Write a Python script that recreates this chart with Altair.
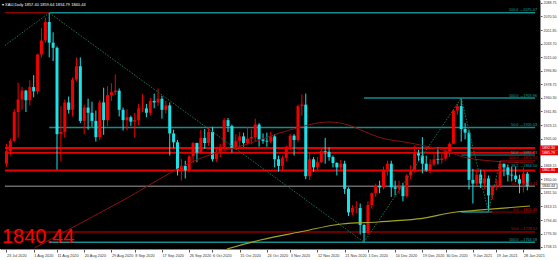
import altair as alt
import pandas as pd

# ---------------- data ----------------
opens = [1871, 1888, 1902, 1941, 1958, 1970, 1957, 1975, 1969, 2019, 2038, 2063, 2035, 2028, 1911, 1914, 1954, 1944, 1985, 2003,
         1929, 1947, 1940, 1929, 1907, 1954, 1930, 1964, 1968, 1970, 1944, 1930, 1934, 1928, 1930, 1946, 1946, 1940, 1956, 1954,
         1959, 1944, 1950, 1912, 1900, 1863, 1868, 1862, 1881, 1899, 1886, 1906, 1899, 1914, 1877, 1887, 1894, 1930, 1922, 1892,
         1902, 1908, 1899, 1905, 1907, 1924, 1904, 1902, 1901, 1908, 1877, 1868, 1879, 1894, 1909, 1903, 1949, 1951, 1854, 1877,
         1866, 1873, 1888, 1887, 1880, 1872, 1866, 1871, 1837, 1805, 1811, 1811, 1788, 1777, 1815, 1831, 1841, 1839, 1863, 1871,
         1839, 1837, 1840, 1827, 1855, 1862, 1885, 1882, 1871, 1862, 1870, 1877, 1876, 1878, 1888, 1898, 1943, 1949, 1918, 1913,
         1849, 1844, 1856, 1844, 1851, 1828, 1840, 1840, 1871, 1866, 1856, 1855, 1850, 1844, 1857.40]
highs = [1898, 1905, 1945, 1981, 1975, 1971, 1984, 1991, 2020, 2055, 2069, 2075.47, 2049, 2030, 1949, 1958, 1962, 1988, 2015, 2015,
         1951, 1959, 1955, 1943, 1957, 1974, 1976, 1980, 1992, 1973, 1947, 1945, 1936, 1940, 1952, 1965, 1952, 1960, 1966, 1973,
         1963, 1956, 1954, 1917, 1903, 1877, 1875, 1883, 1900, 1899.5, 1917, 1918, 1920, 1921, 1894, 1898, 1933, 1933, 1924, 1911,
         1914, 1913, 1920, 1918, 1932, 1926, 1912, 1913, 1914, 1911, 1882, 1882, 1895, 1911, 1911, 1951, 1965, 1966, 1886, 1880,
         1880, 1892, 1906, 1893, 1882, 1873, 1876, 1875, 1839, 1815, 1820, 1817, 1789, 1820, 1832, 1844, 1848, 1867, 1875, 1875,
         1848, 1848, 1845, 1857, 1869, 1895, 1890, 1907, 1882, 1877, 1884, 1893, 1884, 1890, 1900, 1945, 1952, 1959.96, 1926, 1917,
         1864, 1863, 1863, 1863, 1855, 1841, 1850, 1874.92, 1871, 1870, 1867, 1867, 1856, 1866, 1859.64]
lows = [1867, 1882, 1900, 1906, 1944, 1941, 1950, 1961, 1965, 2015, 2035, 2015, 2010, 1863, 1874, 1906, 1939, 1935, 1983, 1926,
        1911, 1917, 1921, 1901, 1903, 1910, 1922, 1956, 1964, 1935, 1916, 1916, 1922, 1906, 1923, 1941, 1934, 1936, 1946, 1949,
        1932, 1939, 1882, 1892, 1855, 1848, 1851, 1859, 1872, 1873, 1884, 1891, 1895, 1874, 1873, 1880, 1890, 1914, 1886, 1890,
        1893, 1894, 1897, 1897, 1902, 1894, 1898, 1894, 1899, 1866, 1860, 1860, 1874, 1889, 1882, 1900, 1936, 1850, 1849, 1860,
        1862, 1872, 1871, 1875, 1866, 1855, 1862, 1830, 1800, 1801, 1804, 1775, 1764.58, 1775, 1810, 1826, 1831, 1836, 1855, 1826,
        1828, 1830, 1820, 1825, 1850, 1859, 1875, 1858, 1860, 1858, 1868, 1870, 1871, 1875, 1880, 1898, 1937, 1901, 1904, 1836,
        1817, 1841, 1838, 1837, 1805.49, 1823, 1835, 1838, 1854, 1847, 1847, 1846, 1831, 1832, 1834.79]
closes = [1888, 1902, 1941, 1958, 1970, 1957, 1975, 1969, 2019, 2038, 2063, 2035, 2028, 1911, 1914, 1954, 1944, 1985, 2003, 1929,
          1947, 1940, 1929, 1907, 1954, 1930, 1964, 1968, 1970, 1944, 1930, 1934, 1928, 1930, 1946, 1946.5, 1940, 1956, 1954, 1959,
          1944, 1950, 1912, 1900, 1863, 1868, 1862, 1881, 1899, 1886, 1906, 1899, 1914, 1877, 1887, 1894, 1930, 1922, 1892, 1902,
          1908, 1899, 1905, 1907, 1924, 1904, 1902, 1901, 1908, 1877, 1868, 1879, 1894, 1909, 1903, 1949, 1951, 1854, 1877, 1866,
          1873, 1888, 1887, 1880, 1872, 1866, 1871, 1837, 1805, 1811, 1811.5, 1788, 1777, 1815, 1831, 1841, 1839, 1863, 1871, 1839,
          1837, 1840, 1827, 1855, 1862, 1885, 1882, 1871, 1862, 1870, 1877, 1876, 1878, 1888, 1898, 1943, 1949, 1918, 1913, 1849,
          1844, 1856, 1844, 1851, 1828, 1840, 1840.5, 1871, 1866, 1856, 1855, 1850, 1844, 1857.40, 1840.44]

trading_days = [d for d in pd.bdate_range("2020-07-23", "2021-01-29")
                if d.strftime("%m-%d") not in ("12-25", "01-01")]

date_labels = ["23 Jul 2020", "1 Aug 2020", "11 Aug 2020", "20 Aug 2020", "29 Aug 2020", "8 Sep 2020",
               "17 Sep 2020", "26 Sep 2020", "6 Oct 2020", "15 Oct 2020", "24 Oct 2020", "3 Nov 2020",
               "12 Nov 2020", "21 Nov 2020", "1 Dec 2020", "10 Dec 2020", "19 Dec 2020", "30 Dec 2020",
               "9 Jan 2021", "19 Jan 2021", "28 Jan 2021"]
price_ticks = [2088.75, 2070.50, 2051.85, 2033.70, 2015.00, 1996.80, 1978.75, 1960.30, 1941.85, 1923.15,
               1905.00, 1868.15, 1850.00, 1831.50, 1813.15, 1794.40, 1776.30, 1758.15]

# moving averages (bar index, price)
ma_red_idx = [7.2, 28.7, 50.1, 62.8, 72.9, 83.0, 88.0, 91.8, 95.6, 103.9, 114.0, 117.5, 128.4, 135.5]
ma_red_val = [1756.8, 1817.7, 1878.7, 1899.0, 1916.7, 1927.5, 1923.4, 1915.3, 1907.2, 1899.0, 1886.8, 1880.1, 1873.3, 1872.0]
ma_yel_idx = [56.7, 65.3, 75.4, 86.2, 95.6, 105.7, 115.8, 122.1, 134.7]
ma_yel_val = [1755.4, 1767.6, 1778.4, 1789.3, 1792.0, 1796.1, 1805.5, 1808.3, 1813.7]

# trend lines (start idx, start price, end idx, end price)
trend_start_idx = [-0.4, 11, 92, 117, 124]
trend_start_val = [2031.1, 2075.47, 1764.58, 1959.96, 1805.49]
trend_end_idx = [11, 92, 117, 124, 127]
trend_end_val = [2075.47, 1764.58, 1959.96, 1805.49, 1874.92]

# horizontal levels
lvl_price = [2075.47, 2075.47, 1959.96, 1920.03, 1764.58, 1778.52, 1892.30, 1885.79, 1861.80, 1840.44,
             1882.73, 1874.92, 1805.49, 1805.49]
lvl_start = [11, -0.4, 92, 11, 11, -0.4, -0.4, -0.4, -0.4, -0.4, 117, 127, 117, 124]
lvl_end = [136, 11, 136, 136, 136, 136, 136, 136, 136, 136, 136, 136, 125, 136]
lvl_color = ["#168c8c", "#8b0000", "#168c8c", "#168c8c", "#168c8c", "#8b0000", "#e60000", "#e60000", "#e60000",
             "#6a6a6a", "#168c8c", "#8b0000", "#168c8c", "#8b0000"]
lvl_width = [1.5, 1.5, 1.5, 1.5, 1.5, 1.5, 2, 2, 2, 1.5, 1, 1, 1.5, 1]

fib_text = ["100.0 →2075.47", "100.0 →1959.96", "50.0 →1920.03", "50.0 →1882.73", "100.0 →1874.92",
            "38.2 →1864.50", "50.0 →1840.21", "0.0 →1805.49", "50.0 →1778.52", "100.0 →1764.58"]
fib_price = [2075.47, 1959.96, 1920.03, 1882.73, 1874.92, 1864.50, 1840.21, 1805.49, 1778.52, 1764.58]
fib_color = ["#1aa0a0", "#1aa0a0", "#1aa0a0", "#1aa0a0", "#c01010", "#1aa0a0", "#c01010", "#c01010", "#c01010", "#1aa0a0"]

box_price = [1892.30, 1885.79, 1861.80]
box_text = ["1892.30", "1885.79", "1861.80"]

BULL = "#f00000"
BEAR = "#19e3e8"

# ---------------- frames ----------------
n = len(closes)
cdf = pd.DataFrame({"idx": list(range(n)), "open": opens, "high": highs, "low": lows, "close": closes})
cdf["col"] = [BULL if c >= o else BEAR for o, c in zip(opens, closes)]

tick_idx = []
for lab in date_labels:
    d = pd.to_datetime(lab, format="%d %b %Y")
    tick_idx.append(next(i for i, t in enumerate(trading_days) if t >= d))

label_expr = "[" + ",".join("'%s'" % s for s in date_labels) + "][indexof([" + \
    ",".join(str(i) for i in tick_idx) + "], datum.value)]"

xs = alt.Scale(domain=[-0.38, 135.98], nice=False, zero=False)
ys = alt.Scale(domain=[1755.4, 2092.8], nice=False, zero=False)

x_axis = alt.Axis(values=tick_idx, labelExpr=label_expr, labelFontSize=3.8, labelColor="#333333",
                  labelAlign="left", labelPadding=1, tickSize=3, tickColor="#555555", domainColor="#888888",
                  grid=False, title=None, labelOverlap=False, labelFlush=False, labelBound=False,
                  labelFont="Liberation Sans")
y_axis = alt.Axis(orient="right", values=price_ticks, format=".2f", labelFontSize=3.6, labelColor="#333333",
                  labelPadding=1, tickSize=2, tickColor="#555555", domainColor="#888888", grid=False,
                  title=None, labelOverlap=False, labelFont="Liberation Sans", labelBaseline="middle")


def X(field):
    return alt.X(field, scale=xs, axis=x_axis)


def Y(field):
    return alt.Y(field, scale=ys, axis=y_axis)


lvl = pd.DataFrame({"price": lvl_price, "start": lvl_start, "end": lvl_end, "col": lvl_color, "w": lvl_width})
fib = pd.DataFrame({"price": fib_price, "txt": fib_text, "col": fib_color})
boxes = pd.DataFrame({"price": box_price, "txt": box_text})
cur = pd.DataFrame({"price": [closes[-1]], "txt": ["%.2f" % closes[-1]]})

ma_red = pd.DataFrame({"idx": ma_red_idx, "val": ma_red_val})
ma_yel = pd.DataFrame({"idx": ma_yel_idx, "val": ma_yel_val})

rows = []
for s, (a, b, c, d) in enumerate(zip(trend_start_idx, trend_start_val, trend_end_idx, trend_end_val)):
    rows.append({"seg": s, "idx": a, "val": b, "o": 0})
    rows.append({"seg": s, "idx": c, "val": d, "o": 1})
trend = pd.DataFrame(rows)

title_df = pd.DataFrame({"txt": ["▾  XAU,Daily  %.2f %.2f %.2f %.2f" % (opens[-1], highs[-1], lows[-1], closes[-1])]})

# ---------------- layers ----------------
levels = alt.Chart(lvl).mark_rule(clip=True).encode(
    x=X("start:Q"), x2="end:Q", y=Y("price:Q"),
    color=alt.Color("col:N", scale=None), strokeWidth=alt.StrokeWidth("w:Q", scale=None))

wicks = alt.Chart(cdf).mark_rule(strokeWidth=1, clip=True).encode(
    x=X("idx:Q"), y=Y("low:Q"), y2="high:Q", color=alt.Color("col:N", scale=None))

bodies = alt.Chart(cdf).mark_bar(size=3, clip=True).encode(
    x=X("idx:Q"), y=Y("open:Q"), y2="close:Q", color=alt.Color("col:N", scale=None))

red_line = alt.Chart(ma_red).mark_line(color="#8b1010", strokeWidth=1, interpolate="monotone", clip=True).encode(
    x=X("idx:Q"), y=Y("val:Q"))
yel_line = alt.Chart(ma_yel).mark_line(color="#a3a322", strokeWidth=1.2, interpolate="monotone", clip=True).encode(
    x=X("idx:Q"), y=Y("val:Q"))

trend_lines = alt.Chart(trend).mark_line(color="#1d7a4f", strokeWidth=1, strokeDash=[1.5, 1.5], clip=True).encode(
    x=X("idx:Q"), y=Y("val:Q"), detail="seg:N", order="o:Q")

fib_labels = alt.Chart(fib).mark_text(align="right", baseline="bottom", fontSize=3.8, dy=-0.5,
                                      font="Liberation Sans").encode(
    x=alt.value(537), y=Y("price:Q"), text="txt:N", color=alt.Color("col:N", scale=None))

box_rules = alt.Chart(boxes).mark_rule(strokeWidth=5, color="#e60000").encode(
    x=alt.value(540), x2=alt.value(558), y=Y("price:Q"))
box_texts = alt.Chart(boxes).mark_text(align="left", baseline="middle", fontSize=3.6, color="white",
                                       font="Liberation Sans").encode(
    x=alt.value(542), y=Y("price:Q"), text="txt:N")

cur_border = alt.Chart(cur).mark_rule(strokeWidth=5.5, color="#777777").encode(
    x=alt.value(540), x2=alt.value(557.5), y=Y("price:Q"))
cur_fill = alt.Chart(cur).mark_rule(strokeWidth=4, color="white").encode(
    x=alt.value(540.8), x2=alt.value(556.7), y=Y("price:Q"))
cur_text = alt.Chart(cur).mark_text(align="left", baseline="middle", fontSize=3.6, color="#222222",
                                    font="Liberation Sans").encode(
    x=alt.value(542), y=Y("price:Q"), text="txt:N")

big_text = alt.Chart(cur).mark_text(align="left", baseline="alphabetic", fontSize=20, color="#ff0000",
                                    font="Liberation Sans").encode(
    x=alt.value(2), y=alt.value(242.5), text="txt:N")

title_text = alt.Chart(title_df).mark_text(align="left", baseline="middle", fontSize=4, color="white",
                                           font="Liberation Sans").encode(
    x=alt.value(2), y=alt.value(5), text="txt:N")

chart = alt.layer(
    levels, wicks, bodies, red_line, yel_line, trend_lines, fib_labels,
    box_rules, box_texts, cur_border, cur_fill, cur_text, big_text, title_text
).properties(
    width=540, height=249,
    padding={"left": 0, "top": 0, "right": 18, "bottom": 11},
    autosize=alt.AutoSizeParams(type="none"),
    background="white"
).configure_view(fill="black", stroke=None)

chart.save("out.html", embed_options={"renderer": "svg", "actions": False})
